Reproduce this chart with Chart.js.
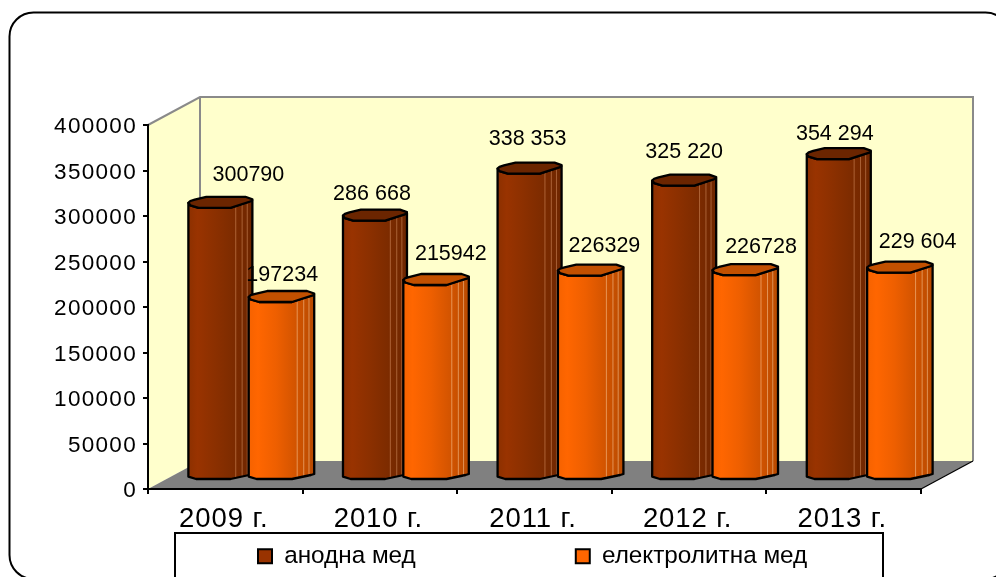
<!DOCTYPE html>
<html>
<head>
<meta charset="utf-8">
<style>html,body{margin:0;padding:0;background:#fff}canvas{display:block}</style>
<script src="https://cdn.jsdelivr.net/npm/chart.js@4/dist/chart.umd.min.js"></script>
</head>
<body>
<canvas id="c" width="996" height="577"></canvas>
<script>
const categories = ['2009 г.', '2010 г.', '2011 г.', '2012 г.', '2013 г.'];
const anodeValues = [300790, 286668, 338353, 325220, 354294];
const electroValues = [197234, 215942, 226329, 226728, 229604];
const anodeLabels = ['300790', '286 668', '338 353', '325 220', '354 294'];
const electroLabels = ['197234', '215942', '226329', '226728', '229 604'];
const seriesNames = ['анодна мед', 'електролитна мед'];
const FONT = '"Liberation Sans", Arial, sans-serif';

// depth of the 3D box, in pixels
const DEPTH = {x: 52, y: 28};
// manual nudges of the data labels, relative to each bar
const labelNudge = [
  [[28, -33], [-3, -27], [-2, -34.5], [0, -33], [-4, -25]],
  [[0, -27], [14, -31], [13, -29], [15, -28], [17, -30]]
];
const shades = [
  {stops: [[0, '#8c3000'], [.14, '#993300'], [.4, '#8c3000'], [.66, '#7f2c00'], [1, '#6e2600']], top: '#6b2500', line: 'rgba(255,190,140,.38)', w: 64, lead: 0},
  {stops: [[0, '#f56200'], [.14, '#ff6600'], [.42, '#ee5f00'], [.66, '#d85600'], [1, '#b84a00']], top: '#c25000', line: 'rgba(255,215,170,.5)', w: 65.5, lead: 1.5}
];
const lineFractions = [.74, .84, .92];

function poly(ctx, pts) {
  ctx.beginPath();
  pts.forEach((p, i) => i ? ctx.lineTo(p[0], p[1]) : ctx.moveTo(p[0], p[1]));
  ctx.closePath();
}

function drawBar(ctx, el, shade) {
  const w = shade.w, x = el.x + 26 - 32 - shade.lead, F = el.y - 7.5, B = el.base - 9;
  const X = f => x + f * w;
  const g = ctx.createLinearGradient(x, 0, x + w, 0);
  shade.stops.forEach(s => g.addColorStop(s[0], s[1]));
  const body = [[X(0), F - 5], [X(.03), F - 2.5], [X(.16), F], [X(.66), F], [X(1), F - 7.5],
                [X(1), B - 5], [X(.95), B - 4], [X(.66), B], [X(.12), B], [X(0), B - 2.4]];
  poly(ctx, body);
  ctx.fillStyle = g;
  ctx.fill();
  ctx.strokeStyle = shade.line;
  ctx.lineWidth = 1;
  lineFractions.forEach(f => {
    ctx.beginPath();
    ctx.moveTo(X(f), F - 4);
    ctx.lineTo(X(f), B - 2);
    ctx.stroke();
  });
  ctx.strokeStyle = '#000';
  ctx.lineWidth = 2.3;
  ctx.lineJoin = 'round';
  poly(ctx, body);
  ctx.stroke();
  poly(ctx, [[X(0), F - 5], [X(.03), F - 6.8], [X(.1), F - 8.2], [X(.28), F - 11], [X(.89), F - 11], [X(1), F - 8.5],
             [X(.99), F - 6.8], [X(.66), F], [X(.16), F], [X(.03), F - 2.5]]);
  ctx.fillStyle = shade.top;
  ctx.fill();
  ctx.stroke();
}

function spaced(chart, scale, spacing, dx, dy) {
  if (scale._spaced) return;
  const orig = scale.drawLabels.bind(scale);
  scale.drawLabels = function (area) {
    const c = chart.ctx;
    c.save();
    c.letterSpacing = spacing;
    c.translate(dx, dy);
    orig(area);
    c.restore();
  };
  scale._spaced = true;
}

const scenePlugin = {
  id: 'scene',
  afterLayout(chart) {
    spaced(chart, chart.scales.y, '1.3px', 0, 2);
    spaced(chart, chart.scales.x, '0.9px', -1.5, 1);
    const lg = chart.legend, pad = lg.options.labels.padding;
    lg.left = 258 - pad;
    lg.right = 1100;
    lg.top = 544 - pad;
    lg.bottom = 577;
    lg.width = lg.right - lg.left;
    lg.height = lg.bottom - lg.top;
  },
  beforeDraw(chart) {
    const c = chart.ctx, a = chart.chartArea;
    const L = a.left, R = a.right, T = a.top, Bt = a.bottom, dx = DEPTH.x, dy = DEPTH.y;
    c.save();
    c.fillStyle = '#fff';
    c.fillRect(0, 0, chart.width, chart.height);
    // outer rounded frame
    c.strokeStyle = '#000';
    c.lineWidth = 2;
    c.beginPath();
    c.roundRect(9.5, 12.5, 1000, 566.5, 24);
    c.stroke();
    // walls
    c.fillStyle = '#ffffcc';
    poly(c, [[L, T], [L + dx, T - dy], [R + dx, T - dy], [R + dx, Bt - dy], [L + dx, Bt - dy], [L, Bt]]);
    c.fill();
    // floor
    c.fillStyle = '#808080';
    poly(c, [[L, Bt], [L + dx, Bt - dy], [R + dx, Bt - dy], [R, Bt]]);
    c.fill();
    c.strokeStyle = '#8a8a8a';
    c.lineWidth = 2;
    c.beginPath();
    c.moveTo(L, T);
    c.lineTo(L + dx, T - dy);
    c.lineTo(R + dx, T - dy);
    c.lineTo(R + dx, Bt - dy);
    c.moveTo(L + dx, T - dy);
    c.lineTo(L + dx, Bt - dy);
    c.stroke();
    c.strokeStyle = '#000';
    c.lineWidth = 1.2;
    c.beginPath();
    c.moveTo(R, Bt);
    c.lineTo(R + dx, Bt - dy);
    c.stroke();
    // legend box
    c.fillStyle = '#fff';
    c.fillRect(175, 533, 708, 60);
    c.strokeStyle = '#000';
    c.lineWidth = 2;
    c.beginPath();
    c.moveTo(175, 590);
    c.lineTo(175, 533);
    c.lineTo(883, 533);
    c.lineTo(883, 590);
    c.stroke();
    c.restore();
  },
  beforeDatasetDraw() { return false; },
  beforeDatasetsDraw(chart) {
    const c = chart.ctx;
    c.save();
    const m0 = chart.getDatasetMeta(0).data, m1 = chart.getDatasetMeta(1).data;
    categories.forEach((_, i) => {
      drawBar(c, m0[i], shades[0]);
      drawBar(c, m1[i], shades[1]);
    });
    c.restore();
  },
  afterDatasetsDraw(chart) {
    const c = chart.ctx;
    c.save();
    c.font = '21.5px ' + FONT;
    c.fillStyle = '#000';
    c.textAlign = 'center';
    c.textBaseline = 'middle';
    [anodeLabels, electroLabels].forEach((labels, s) => {
      const meta = chart.getDatasetMeta(s).data;
      labels.forEach((t, i) => {
        const el = meta[i], n = labelNudge[s][i];
        c.fillText(t, el.x + 26 + n[0], el.y - 7.5 + n[1]);
      });
    });
    c.restore();
  }
};

new Chart(document.getElementById('c'), {
  type: 'bar',
  data: {
    labels: categories,
    datasets: [
      {label: seriesNames[0], data: anodeValues, backgroundColor: '#993300', borderColor: '#000', borderWidth: 2},
      {label: seriesNames[1], data: electroValues, backgroundColor: '#ff6600', borderColor: '#000', borderWidth: 2}
    ]
  },
  options: {
    responsive: false,
    animation: false,
    layout: {padding: {top: 125, right: 75, left: 0, bottom: 0}},
    datasets: {bar: {categoryPercentage: .8, barPercentage: 1}},
    scales: {
      x: {
        grid: {offset: true, drawOnChartArea: false, color: '#000', lineWidth: 2, tickLength: 5},
        border: {color: '#000', width: 2},
        ticks: {color: '#000', font: {family: FONT, size: 27.5}, padding: 8, autoSkip: false, maxRotation: 0},
        afterFit(s) { s.height = 87; }
      },
      y: {
        min: 0, max: 400000,
        grid: {drawOnChartArea: false, color: '#000', lineWidth: 2, tickLength: 5},
        border: {color: '#000', width: 2},
        ticks: {stepSize: 50000, color: '#000', font: {family: FONT, size: 22.5}, padding: 6, callback: v => String(v)},
        afterFit(s) { s.width = 148; }
      }
    },
    plugins: {
      tooltip: {enabled: false},
      title: {display: false},
      legend: {
        position: 'bottom',
        align: 'start',
        maxHeight: 1,
        labels: {color: '#000', font: {family: FONT, size: 24.3}, boxWidth: 14, boxHeight: 14, padding: 160}
      }
    }
  },
  plugins: [scenePlugin]
});
</script>
</body>
</html>
